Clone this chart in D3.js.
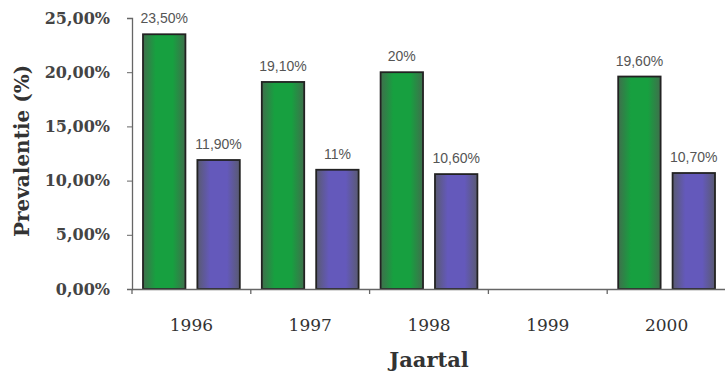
<!DOCTYPE html>
<html><head><meta charset="utf-8">
<script src="https://cdn.jsdelivr.net/npm/d3@7"></script>
<style>body{margin:0;background:#fff}svg{display:block}</style>
</head><body>
<svg id="c" width="725" height="373"></svg>
<script>
const years = ["1996","1997","1998","1999","2000"];
const seriesA = [23.5, 19.1, 20, 0, 19.6];
const seriesB = [11.9, 11, 10.6, 0, 10.7];
const labelsA = ["23,50%","19,10%","20%","","19,60%"];
const labelsB = ["11,90%","11%","10,60%","","10,70%"];
const yTicks = [0,5,10,15,20,25];

const svg = d3.select("#c");
const x0 = d3.scaleBand().domain(years).range([132,726]).paddingInner(0).paddingOuter(0);
const x1 = d3.scaleBand().domain(["a","b"]).range([11, x0.bandwidth()-11]).paddingInner(0.22);
const y = d3.scaleLinear().domain([0,25]).range([289,18]);

const defs = svg.append("defs");
function grad(id, edge, mid){
  const g = defs.append("linearGradient").attr("id",id).attr("x1","0").attr("x2","1").attr("y1","0").attr("y2","0");
  g.append("stop").attr("offset","0").attr("stop-color",edge);
  g.append("stop").attr("offset","0.3").attr("stop-color",mid);
  g.append("stop").attr("offset","0.7").attr("stop-color",mid);
  g.append("stop").attr("offset","1").attr("stop-color",edge);
}
grad("gA","#3f6f4c","#17a040");
grad("gB","#595a72","#6459bb");

const data = years.map((yr,i)=>({yr, vals:[{k:"a",v:seriesA[i],l:labelsA[i]},{k:"b",v:seriesB[i],l:labelsB[i]}]}));

const serif = "DejaVu Serif, serif";
const gy = svg.append("g").attr("transform","translate(132,0)")
  .call(d3.axisLeft(y).tickValues(yTicks).tickSize(5).tickFormat(d=>d3.format(".2f")(d).replace(".",",")+"%"));
gy.select(".domain").attr("stroke","#666").attr("stroke-width",1.3);
gy.selectAll(".tick line").attr("stroke","#666");
gy.selectAll(".tick text").attr("x",-22).attr("font-family",serif).attr("font-weight","bold")
  .attr("font-size","16px").attr("fill","#444");

const groups = svg.append("g").selectAll("g").data(data).join("g")
  .attr("transform",d=>`translate(${x0(d.yr)},0)`);
groups.selectAll("rect").data(d=>d.vals.filter(v=>v.v>0)).join("rect")
  .attr("x",d=>x1(d.k)).attr("width",x1.bandwidth())
  .attr("y",d=>y(d.v)).attr("height",d=>y(0)-y(d.v))
  .attr("fill",d=>d.k==="a"?"url(#gA)":"url(#gB)")
  .attr("stroke","#222").attr("stroke-width",1.8);
groups.selectAll("text").data(d=>d.vals.filter(v=>v.l)).join("text")
  .attr("x",d=>x1(d.k)+x1.bandwidth()/2).attr("y",d=>y(d.v)-11)
  .attr("text-anchor","middle").attr("font-family","Liberation Sans, Arial, sans-serif")
  .attr("font-size","14px").attr("fill","#555").text(d=>d.l);

const gx = svg.append("g").attr("transform","translate(0,289)")
  .call(d3.axisBottom(x0).tickSize(0).tickPadding(0));
gx.select(".domain").attr("stroke","#666").attr("stroke-width",1.3);
gx.selectAll(".tick text").attr("y",42).attr("dy",0).attr("font-family",serif)
  .attr("font-size","17px").attr("fill","#333");
svg.append("g").selectAll("line").data(years).join("line")
  .attr("x1",d=>x0(d)).attr("x2",d=>x0(d)).attr("y1",289).attr("y2",294)
  .attr("stroke","#666").attr("stroke-width",1.3);

svg.append("text").attr("x",429).attr("y",367).attr("text-anchor","middle")
  .attr("font-family",serif).attr("font-weight","bold").attr("font-size","21px")
  .attr("fill","#333").text("Jaartal");
svg.append("text").attr("transform","translate(29,151) rotate(-90)").attr("text-anchor","middle")
  .attr("font-family",serif).attr("font-weight","bold").attr("font-size","20px")
  .attr("fill","#333").text("Prevalentie (%)");
</script>
</body></html>
